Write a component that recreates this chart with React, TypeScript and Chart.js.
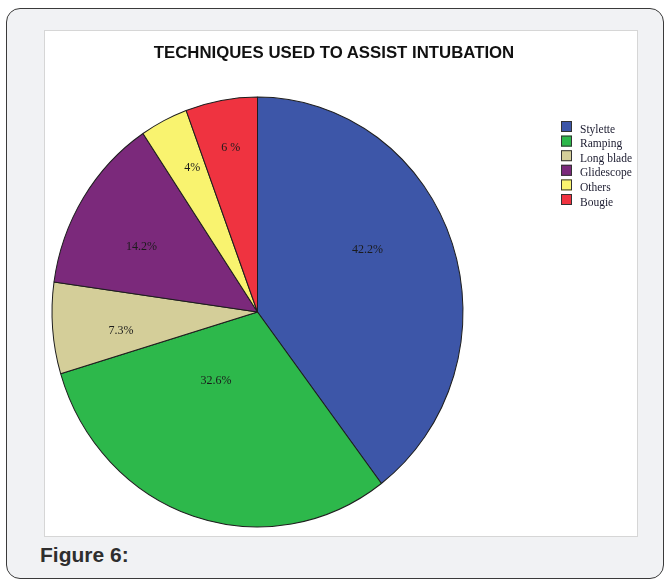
import React, { useEffect, useRef } from "react";
import { Chart, registerables } from "chart.js";

Chart.register(...registerables);

// ---- data ----
const CATEGORIES = ["Stylette", "Ramping", "Long blade", "Glidescope", "Others", "Bougie"];
const VALUES = [42.2, 32.6, 7.3, 14.2, 4, 6];
const SLICE_LABELS = ["42.2%", "32.6%", "7.3%", "14.2%", "4%", "6 %"];
const COLORS = ["#3d56a8", "#2db84b", "#d4ce99", "#7b297b", "#f9f36f", "#ef3340"];
const TITLE = "TECHNIQUES USED TO ASSIST INTUBATION";
const CAPTION = "Figure 6:";

// ---- label placement (fraction of radius, angular shift in degrees) ----
const LABEL_RADIUS = [0.61, 0.38, 0.67, 0.64, 0.74, 0.775];
const LABEL_SHIFT = [-10, 14, -3, -4, 1.7, 0.5];
const Y_STRETCH = 1.046;
const SERIF = "'Liberation Serif', 'Times New Roman', serif";

const stretchAndLabels = {
  id: "stretchAndLabels",
  beforeDatasetsDraw(chart: any) {
    const arc = chart.getDatasetMeta(0).data[0];
    if (!arc) return;
    const { x, y } = arc;
    const ctx = chart.ctx;
    ctx.save();
    ctx.translate(x, y);
    ctx.scale(1, Y_STRETCH);
    ctx.translate(-x, -y);
  },
  afterDatasetsDraw(chart: any) {
    const ctx = chart.ctx;
    const meta = chart.getDatasetMeta(0);
    if (!meta.data[0]) return;
    ctx.restore();
    ctx.save();
    ctx.font = `12px ${SERIF}`;
    ctx.fillStyle = "#1b1b1b";
    ctx.textAlign = "center";
    ctx.textBaseline = "middle";
    meta.data.forEach((arc: any, i: number) => {
      const { x, y, startAngle, endAngle, outerRadius } = arc.getProps(
        ["x", "y", "startAngle", "endAngle", "outerRadius"],
        true
      );
      const mid = (startAngle + endAngle) / 2 + (LABEL_SHIFT[i] * Math.PI) / 180;
      const r = outerRadius * LABEL_RADIUS[i];
      ctx.fillText(SLICE_LABELS[i], x + Math.cos(mid) * r, y + Math.sin(mid) * r * Y_STRETCH);
    });
    ctx.restore();
  },
  afterDraw(chart: any) {
    // legend
    const ctx = chart.ctx;
    ctx.save();
    const boxX = 517;
    const startY = 91;
    const stride = 14.6;
    const box = 11;
    ctx.font = `11.5px ${SERIF}`;
    ctx.textAlign = "left";
    ctx.textBaseline = "middle";
    CATEGORIES.forEach((name, i) => {
      const top = startY + i * stride;
      ctx.fillStyle = COLORS[i];
      ctx.fillRect(boxX, top, box, box);
      ctx.strokeStyle = "#333333";
      ctx.lineWidth = 1;
      ctx.strokeRect(boxX + 0.5, top + 0.5, box - 1, box - 1);
      ctx.fillStyle = "#1c1c30";
      ctx.fillText(name, boxX + 19, top + box / 2 + 3);
    });
    ctx.restore();
  },
};

function PieChart() {
  const ref = useRef<HTMLCanvasElement | null>(null);
  useEffect(() => {
    if (!ref.current) return;
    const chart = new Chart(ref.current, {
      type: "pie",
      data: {
        labels: CATEGORIES,
        datasets: [
          {
            data: VALUES,
            backgroundColor: COLORS,
            borderColor: "#1e1e1e",
            borderWidth: 1,
            clip: false as any,
          },
        ],
      },
      options: {
        responsive: false,
        animation: false,
        events: [],
        radius: 205.5,
        layout: { padding: { left: 0, right: 167, top: 60, bottom: 3 } },
        plugins: {
          legend: { display: false },
          title: { display: false },
          tooltip: { enabled: false },
        },
      } as any,
      plugins: [stretchAndLabels],
    });
    return () => chart.destroy();
  }, []);
  return <canvas ref={ref} width={594} height={507} style={{ display: "block" }} />;
}

export default function App() {
  return (
    <div
      style={{
        position: "absolute",
        left: 0,
        top: 0,
        width: 667,
        height: 580,
        background: "#ffffff",
        overflow: "hidden",
        fontFamily: "'Liberation Sans', Arial, sans-serif",
      }}
    >
      <div
        style={{
          position: "absolute",
          left: 6,
          top: 8,
          width: 658,
          height: 571,
          boxSizing: "border-box",
          border: "1.5px solid #3a3a3a",
          borderRadius: 14,
          background: "#f1f2f4",
        }}
      />
      <div
        style={{
          position: "absolute",
          left: 44,
          top: 30,
          width: 594,
          height: 507,
          boxSizing: "border-box",
          border: "1px solid #d6d6d6",
          background: "#ffffff",
        }}
      />
      <div style={{ position: "absolute", left: 44, top: 30 }}>
        <PieChart />
      </div>
      <div
        style={{
          position: "absolute",
          left: 0,
          width: 668,
          top: 43,
          textAlign: "center",
          fontWeight: "bold",
          fontSize: 16.8,
          color: "#111111",
          whiteSpace: "nowrap",
        }}
      >
        {TITLE}
      </div>
      <div
        style={{
          position: "absolute",
          left: 40,
          top: 543,
          fontWeight: "bold",
          fontSize: 21,
          color: "#2e2e2e",
          whiteSpace: "nowrap",
        }}
      >
        {CAPTION}
      </div>
    </div>
  );
}
